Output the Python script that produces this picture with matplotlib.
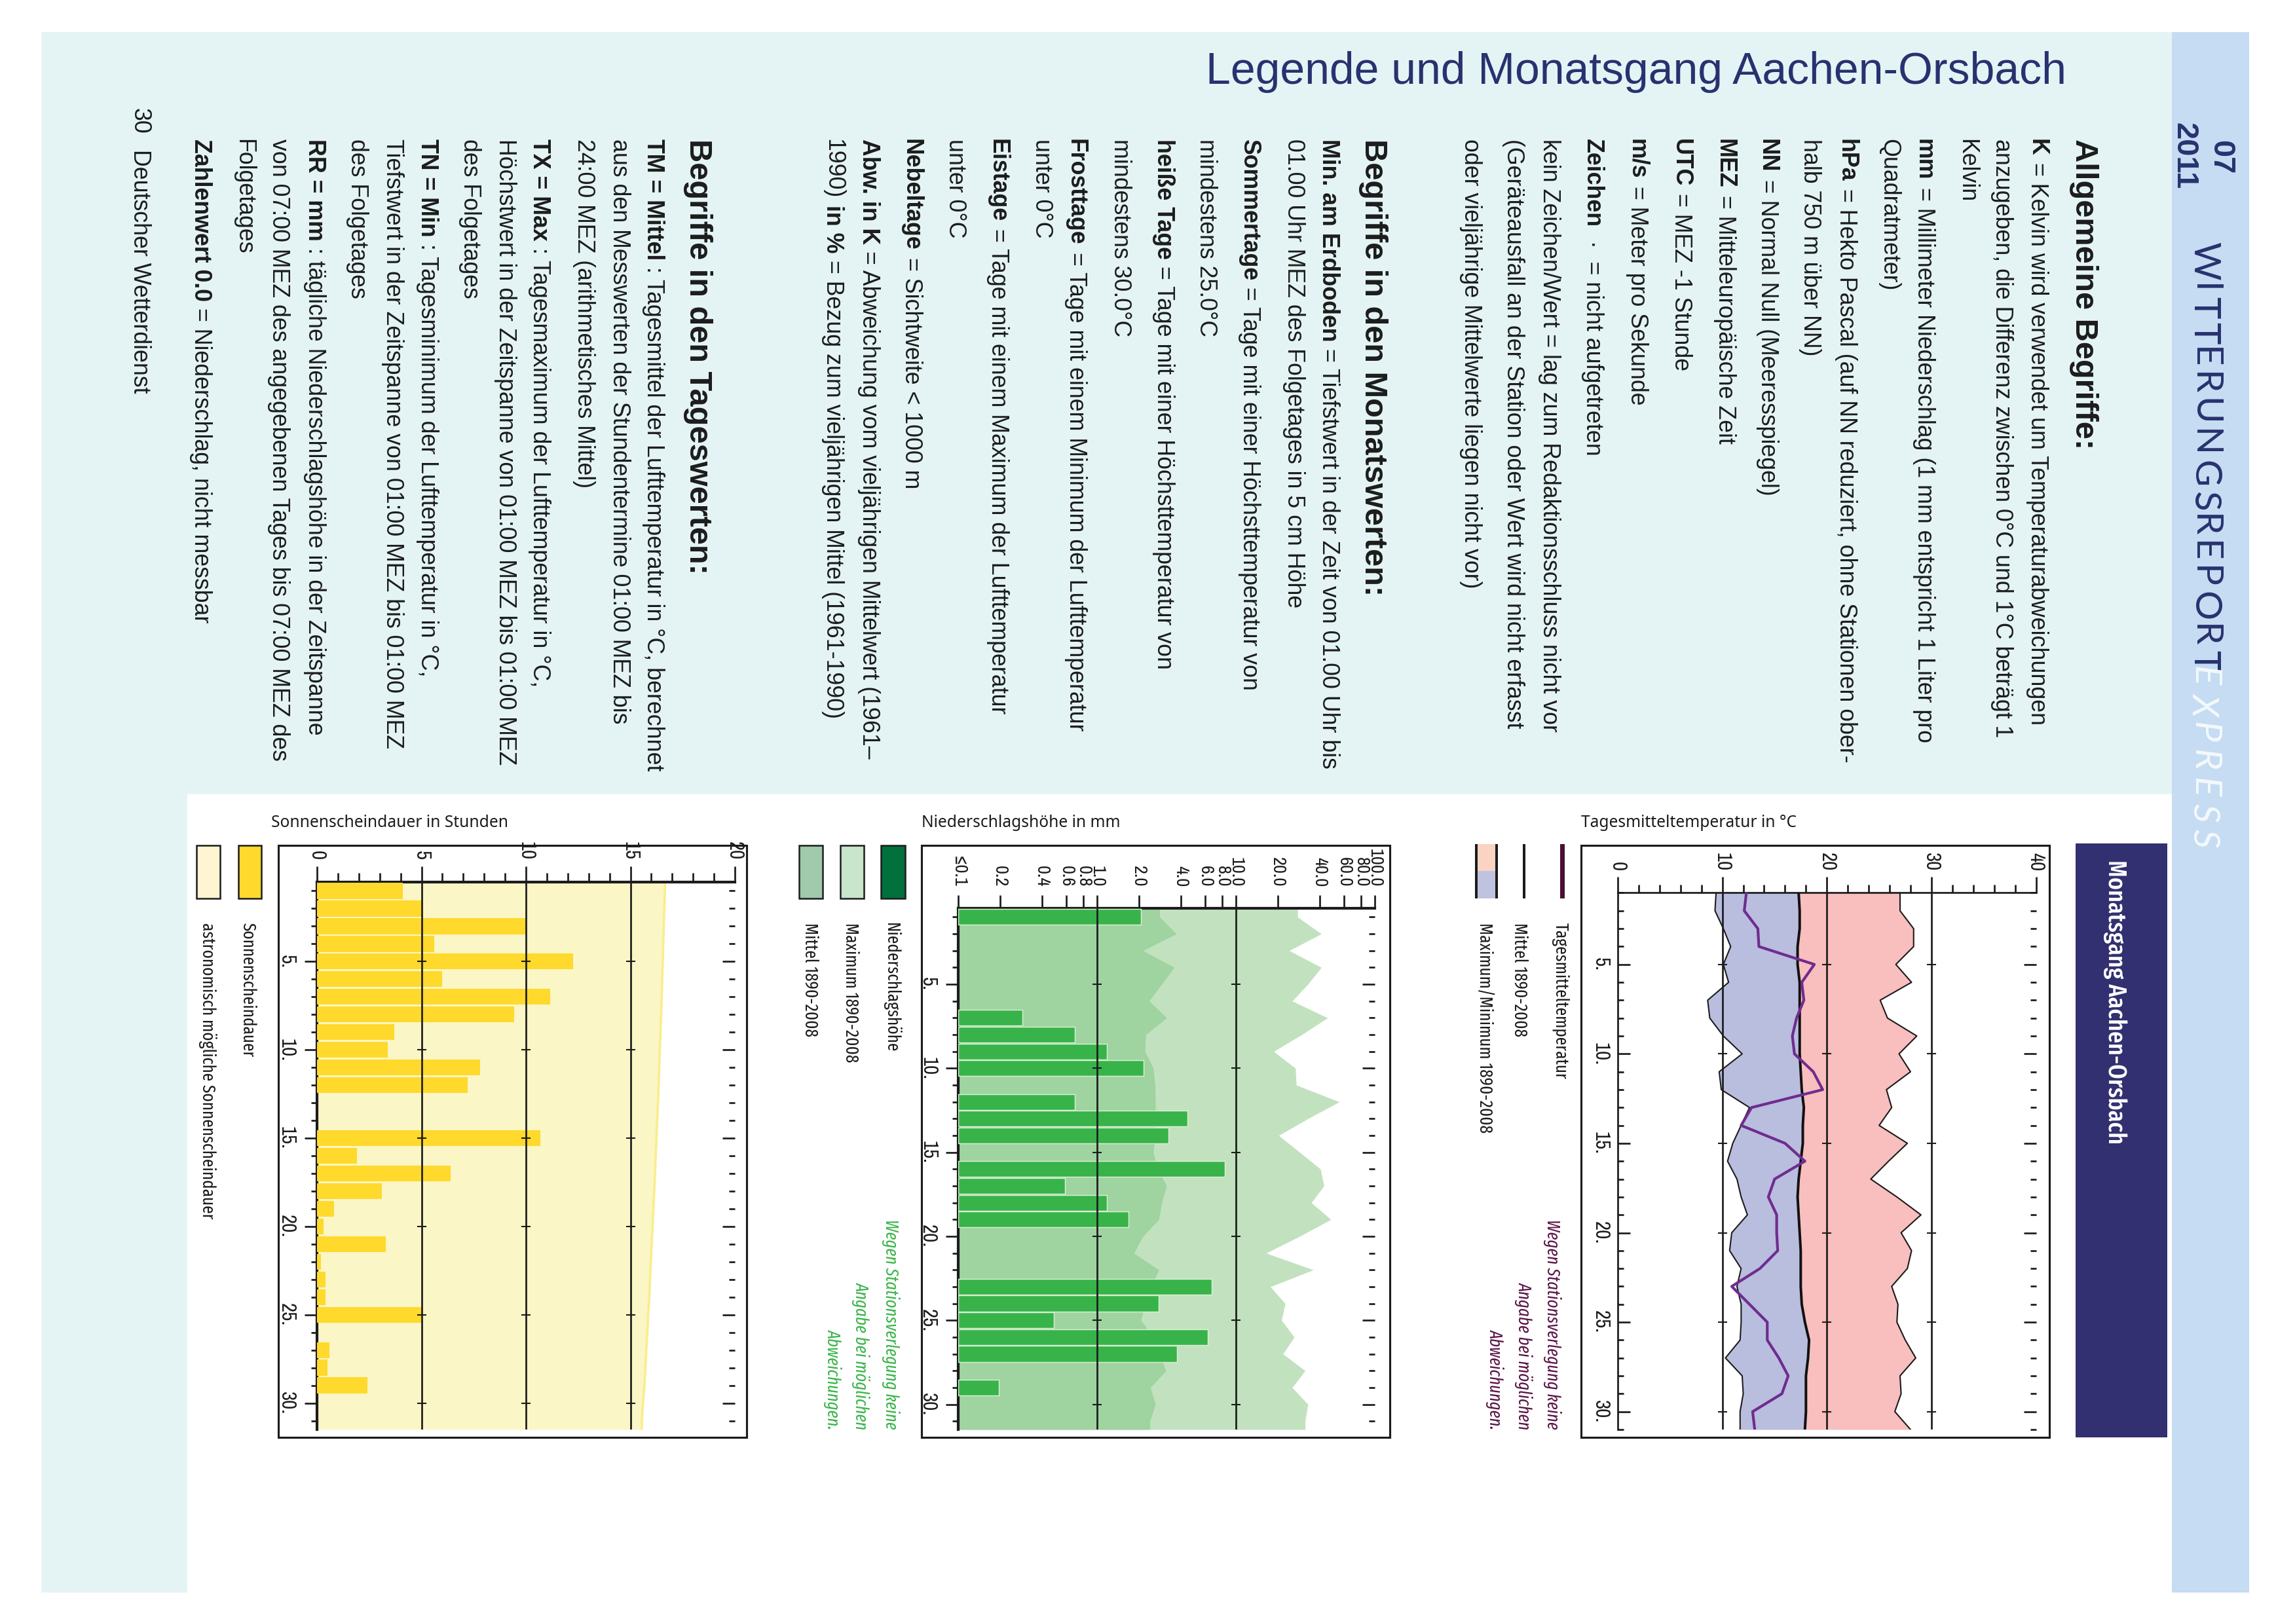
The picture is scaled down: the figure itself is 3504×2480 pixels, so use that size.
import matplotlib
matplotlib.use("Agg")
import matplotlib.pyplot as plt
import numpy as np
from matplotlib.patches import Rectangle

W, H = 3504, 2480
SANS = ["Liberation Sans", "DejaVu Sans"]
NARROW = ["Archivo Narrow", "Liberation Sans", "DejaVu Sans"]
COND = ["Fira Sans Extra Condensed", "Barlow Condensed", "Archivo Narrow", "Liberation Sans", "DejaVu Sans"]
NAVY = "#28326F"

days = np.arange(1, 32)

# Tagesmitteltemperatur in Grad C
t_today = [12.3, 12.1, 13.4, 13.5, 18.8, 17.6, 17.8, 17.1, 16.7, 16.9, 18.7, 19.6, 12.8, 11.8, 16.0, 17.9,
           15.0, 14.4, 15.2, 15.2, 15.3, 13.6, 10.9, 12.6, 14.3, 14.3, 15.4, 16.3, 15.7, 12.9, 13.1]
t_mean = [17.3, 17.4, 17.4, 17.2, 17.2, 17.4, 17.4, 17.4, 17.4, 17.4, 17.5, 17.6, 17.8, 17.7, 17.7, 17.5,
          17.3, 17.2, 17.3, 17.4, 17.5, 17.5, 17.5, 17.6, 17.9, 18.3, 18.2, 18.0, 18.0, 18.0, 17.9]
t_max = [27.0, 27.0, 28.3, 28.3, 26.6, 28.1, 25.1, 25.8, 28.6, 26.9, 28.0, 25.7, 26.2, 25.0, 27.7, 25.9,
         24.2, 26.7, 29.0, 27.1, 28.1, 27.7, 26.2, 26.8, 26.7, 27.5, 28.5, 27.0, 27.1, 26.5, 28.0]
t_min = [9.4, 9.3, 10.1, 10.8, 10.1, 10.6, 8.6, 8.8, 10.1, 11.9, 9.7, 9.9, 12.6, 11.8, 11.0, 10.5,
         11.4, 11.8, 12.4, 10.9, 10.7, 11.8, 11.4, 11.8, 11.8, 11.7, 10.3, 11.9, 12.0, 11.7, 11.7]

# Niederschlag in mm, 0 = kein Balken
rain = [2.08, 0, 0, 0, 0, 0, 0.29, 0.69, 1.18, 2.17, 0, 0.69, 4.5, 3.27, 0, 8.3,
        0.59, 1.18, 1.68, 0, 0, 0, 6.7, 2.78, 0.49, 6.27, 3.78, 0, 0.197, 0, 0]
rain_mean = [2.82, 3.72, 2.14, 3.60, 2.92, 2.37, 3.17, 2.24, 2.21, 2.54, 2.61, 2.63, 2.63, 2.63, 2.54, 2.72,
             3.17, 2.92, 2.78, 2.14, 1.84, 2.78, 2.45, 2.21, 2.07, 2.54, 2.82, 3.13, 2.42, 2.63, 2.40]
rain_max = [27.8, 41.2, 24.2, 41.2, 33.0, 25.4, 45.7, 29.8, 18.7, 26.8, 27.2, 55.5, 33.0, 20.3, 28.8, 40.6,
            43.0, 34.9, 48.3, 28.8, 16.5, 36.1, 17.7, 22.6, 21.3, 26.3, 21.8, 31.5, 25.4, 33.0, 31.5]
rain_ticks = [0.1, 0.2, 0.4, 0.6, 0.8, 1, 2, 4, 6, 8, 10, 20, 40, 60, 80, 100]
rain_labels = ["≤0.1", "0.2", "0.4", "0.6", "0.8", "1.0", "2.0", "4.0", "6.0", "8.0", "10.0",
               "20.0", "40.0", "60.0", "80.0", "100.0"]

# Sonnenscheindauer in Stunden
sun = [4.1, 5.07, 10.0, 5.6, 12.27, 6.0, 11.15, 9.45, 3.7, 3.4, 7.8, 7.2, 0, 0, 10.7, 1.9,
       6.4, 3.1, 0.8, 0.3, 3.3, 0.2, 0.4, 0.4, 5.0, 0, 0.6, 0.5, 2.4, 0, 0]
sun_astro = [16.65, 16.62, 16.6, 16.57, 16.55, 16.52, 16.5, 16.47, 16.44, 16.41, 16.38, 16.35, 16.32, 16.28,
             16.25, 16.21, 16.18, 16.14, 16.1, 16.06, 16.02, 15.98, 15.94, 15.9, 15.85, 15.81, 15.76, 15.72,
             15.67, 15.6, 15.55]

# Text der Legende: (Art, fett, normal), Zeilen von rechts nach links
right_col = [("H", "Allgemeine Begriffe:", ""),
             ("", "K", "= Kelvin wird verwendet um Temperaturabweichungen"),
             ("", "", "anzugeben, die Differenz zwischen 0°C und 1°C beträgt 1"),
             ("", "", "Kelvin"),
             ("", "mm", "= Millimeter Niederschlag (1 mm entspricht 1 Liter pro"),
             ("", "", "Quadratmeter)"),
             ("", "hPa", "= Hekto Pascal (auf NN reduziert, ohne Stationen ober-"),
             ("", "", "halb 750 m über NN)"),
             ("", "NN", "= Normal Null (Meeresspiegel)"),
             ("", "MEZ", "= Mitteleuropäische Zeit"),
             ("", "UTC", "= MEZ -1 Stunde"),
             ("", "m/s", "= Meter pro Sekunde"),
             ("", "Zeichen", " ·  = nicht aufgetreten"),
             ("", "", "kein Zeichen/Wert = lag zum Redaktionsschluss nicht vor"),
             ("", "", "(Geräteausfall an der Station oder Wert wird nicht erfasst"),
             ("", "", "oder vieljährige Mittelwerte liegen nicht vor)"),
             ("H", "Begriffe in den Monatswerten:", ""),
             ("", "Min. am Erdboden", "= Tiefstwert in der Zeit von 01.00 Uhr bis"),
             ("", "", "01.00 Uhr MEZ des Folgetages in 5 cm Höhe"),
             ("", "Sommertage", "= Tage mit einer Höchsttemperatur von"),
             ("", "", "mindestens 25.0°C"),
             ("", "heiße Tage", "= Tage mit einer Höchsttemperatur von"),
             ("", "", "mindestens 30.0°C"),
             ("", "Frosttage", "= Tage mit einem Minimum der Lufttemperatur"),
             ("", "", "unter 0°C"),
             ("", "Eistage", "= Tage mit einem Maximum der Lufttemperatur"),
             ("", "", "unter 0°C"),
             ("", "Nebeltage", "= Sichtweite < 1000 m"),
             ("", "Abw. in K", "= Abweichung vom vieljährigen Mittelwert (1961–"),
             ("P", "", "1990)"),
             ("H", "Begriffe in den Tageswerten:", ""),
             ("", "TM = Mittel", ": Tagesmittel der Lufttemperatur in °C, berechnet"),
             ("", "", "aus den Messwerten der Stundentermine 01:00 MEZ bis"),
             ("", "", "24:00 MEZ (arithmetisches Mittel)"),
             ("", "TX = Max", ": Tagesmaximum der Lufttemperatur in °C,"),
             ("", "", "Höchstwert in der Zeitspanne von 01:00 MEZ bis 01:00 MEZ"),
             ("", "", "des Folgetages"),
             ("", "TN = Min", ": Tagesminimum der Lufttemperatur in °C,"),
             ("", "", "Tiefstwert in der Zeitspanne von 01:00 MEZ bis 01:00 MEZ"),
             ("", "", "des Folgetages"),
             ("", "RR = mm", ": tägliche Niederschlagshöhe in der Zeitspanne"),
             ("", "", "von 07:00 MEZ des angegebenen Tages bis 07:00 MEZ des"),
             ("", "", "Folgetages"),
             ("", "Zahlenwert 0.0", "= Niederschlag, nicht messbar")]
baselines = [3169, 3101, 3047, 2993, 2928, 2874, 2809, 2754, 2689, 2624, 2557, 2490, 2422, 2356, 2301, 2236,
             2084, 2019, 1966, 1898, 1832, 1767, 1701, 1633, 1581, 1514, 1449, 1382, 1317, 1262,
             1053, 988, 936, 882, 814, 762, 708, 643, 590, 536, 471, 416, 362, 297]

BODY = 8.6
HEAD = 11.7

fig = plt.figure(figsize=(W / 300, H / 300), dpi=300)
bg = fig.add_axes([0, 0, 1, 1])
bg.set_xlim(0, W)
bg.set_ylim(H, 0)
bg.axis("off")
renderer = fig.canvas.get_renderer()


def box(x0, y0, x1, y1, color, edge="none", lw=0):
    bg.add_patch(Rectangle((x0, y0), x1 - x0, y1 - y0, facecolor=color, edgecolor=edge, linewidth=lw))


def down_text(x, y, s, size, family=SANS, color="#1c1c1c", **kw):
    # von oben nach unten laufender Text, x ist die Grundlinie
    return bg.text(x, y, s, fontsize=size, family=family, color=color, rotation=270,
                   rotation_mode="anchor", ha="left", va="baseline", **kw)


def spaced(x, y, s, size, extra, **kw):
    for ch in s:
        t = down_text(x, y, ch, size, **kw)
        y += t.get_window_extent(renderer).height + extra
    return y


# Seitenhintergrund
box(63, 49, 3316, 1213, "#E4F4F5")
box(63, 1213, 286, 2432, "#E4F4F5")
box(3316, 49, 3434, 2432, "#C5DCF2")
box(3169, 1288, 3309, 2195, "#323070")

bg.text(1841, 128, "Legende und Monatsgang Aachen-Orsbach", fontsize=16.3, family=SANS, color=NAVY)
down_text(3378, 214, "07", 11.3, color=NAVY, fontweight="bold")
down_text(3322, 187, "2011", 11.3, color=NAVY, fontweight="bold")
spaced(3349, 369, "WITTERUNGSREPORT", 13.6, 5, family=["Lato", "Liberation Sans"], color=NAVY, fontweight="normal")
spaced(3349, 1017, "EXPRESS", 13.6, 10, family=["Lato", "Liberation Sans"], color="#F4F9FD", fontweight="normal",
       style="italic")
down_text(3219, 1313, "Monatsgang Aachen-Orsbach", 9.4, family=COND, color="white", fontweight="medium")

for (kind, strong, rest), bx in zip(right_col, baselines):
    if kind == "H":
        down_text(bx, 212, strong, HEAD, fontweight="bold")
        continue
    y = 212
    if strong:
        t = down_text(bx, y, strong, BODY, fontweight="bold")
        y += t.get_window_extent(renderer).height + 10
    if rest:
        t = down_text(bx, y, rest, BODY)
    if kind == "P":
        # Zeile mit zweitem fettem Begriff
        y += t.get_window_extent(renderer).height + 10
        t = down_text(bx, y, "in %", BODY, fontweight="bold")
        y += t.get_window_extent(renderer).height + 10
        down_text(bx, y, "= Bezug zum vieljährigen Mittel (1961-1990)", BODY)

down_text(204, 165, "30", BODY)
down_text(204, 228, "Deutscher Wetterdienst", BODY)

# Rahmen und Diagrammtitel
box(2414, 1291, 3129, 2195, "white", "#1c1c1c", 0.75)
box(1407, 1291, 2122, 2195, "white", "#1c1c1c", 0.75)
box(425, 1291, 1140, 2195, "white", "#1c1c1c", 0.75)
TITLE = ["Noto Sans", "DejaVu Sans"]
bg.text(2414, 1263, "Tagesmitteltemperatur in °C", fontsize=5.9, family=TITLE, color="#1c1c1c")
bg.text(1407, 1263, "Niederschlagshöhe in mm", fontsize=5.9, family=TITLE, color="#1c1c1c")
bg.text(414, 1263, "Sonnenscheindauer in Stunden", fontsize=5.9, family=TITLE, color="#1c1c1c")

# Legenden
box(2382, 1289, 2389, 1372, "#4B0F35")
box(2325, 1289, 2329, 1372, "#1c1c1c")
box(2252, 1289, 2287, 1330, "#FBD3C3")
box(2252, 1330, 2287, 1372, "#BFC3E0")
box(2252, 1289, 2256, 1372, "#1c1c1c")
box(2283, 1289, 2287, 1372, "#1c1c1c")
box(1345, 1291, 1382, 1372, "#00703C", "#1c1c1c", 0.6)
box(1283, 1291, 1319, 1372, "#C9E5CC", "#1c1c1c", 0.6)
box(1220, 1291, 1256, 1372, "#A1C9AC", "#1c1c1c", 0.6)
box(364, 1291, 399, 1372, "#FFD92B", "#1c1c1c", 0.6)
box(300, 1291, 336, 1372, "#FFF5D2", "#1c1c1c", 0.6)
for lx, label in [(2375, "Tagesmitteltemperatur"), (2312, "Mittel 1890-2008"), (2259, "Maximum/Minimum 1890-2008"),
                  (1353, "Niederschlagshöhe"), (1291, "Maximum 1890-2008"), (1229, "Mittel 1890-2008"),
                  (371, "Sonnenscheindauer"), (309, "astronomisch mögliche Sonnenscheindauer")]:
    down_text(lx, 1409, label, 6.6, family=COND)

note = ["Wegen Stationsverlegung keine", "Angabe bei möglichen", "Abweichungen."]
for nx, line in zip([2362, 2319, 2275], note):
    t = down_text(nx, 2183, line, 6.5, family=COND, color="#5A1446", style="italic")
    t.set_ha("right")
for nx, line in zip([1352, 1307, 1264], note):
    t = down_text(nx, 2183, line, 6.5, family=COND, color="#3BB54A", style="italic")
    t.set_ha("right")


def make_axes(x0, y0, x1, y1):
    ax = fig.add_axes([x0 / W, 1 - y1 / H, (x1 - x0) / W, (y1 - y0) / H])
    ax.patch.set_visible(False)
    for side in ["right", "bottom"]:
        ax.spines[side].set_visible(False)
    return ax


def style_axes(ax, xticks, xlabels, xminor, xlen, xminlen, left_dir, ylab_pad, xlab_pad, axis_lw, xfont=7.4):
    tk = "#1c1c1c"
    for side in ["top", "left"]:
        ax.spines[side].set_linewidth(axis_lw)
        ax.spines[side].set_color(tk)
    ax.xaxis.tick_top()
    ax.set_xticks(xticks, xlabels)
    ax.set_xticks(xminor, minor=True)
    ax.tick_params(axis="x", which="major", direction="out", length=xlen * 0.24, width=0.65, color=tk, pad=xlab_pad * 0.24)
    ax.tick_params(axis="x", which="minor", direction="out", length=xminlen * 0.24, width=0.65, color=tk)
    ax.set_yticks([5, 10, 15, 20, 25, 30], ["5.", "10.", "15.", "20.", "25.", "30."])
    ax.set_yticks(days, minor=True)
    ax.tick_params(axis="y", which="major", direction=left_dir, length=19 * 0.24, width=0.65, color=tk, pad=ylab_pad * 0.24)
    ax.tick_params(axis="y", which="minor", direction=left_dir, length=9 * 0.24, width=0.65, color=tk)
    for lab in ax.get_xticklabels():
        lab.set(rotation=270, ha="center", va="bottom", family=NARROW, fontsize=xfont, color=tk)
    for lab in ax.get_yticklabels():
        lab.set(rotation=270, ha="right", va="center", family=NARROW, fontsize=7.4, color=tk)
    # Striche am rechten Rand
    sec = ax.secondary_yaxis("right")
    sec.spines["right"].set_visible(False)
    sec.set_yticks([5, 10, 15, 20, 25, 30])
    sec.set_yticks(days, minor=True)
    sec.tick_params(axis="y", which="major", direction="in", length=19 * 0.24, width=0.65, color=tk, labelright=False)
    sec.tick_params(axis="y", which="minor", direction="in", length=9 * 0.24, width=0.65, color=tk)


def grid_marks(ax, values):
    # Gitterlinien mit kleinen Querstrichen an jedem fuenften Tag
    for v in values:
        ax.axvline(v, color="#1c1c1c", lw=0.65, zorder=4)
        ax.plot([v] * 6, [5, 10, 15, 20, 25, 30], ls="none", marker="_", ms=3.4, mew=0.5, color="#1c1c1c", zorder=4)


def ends(values):
    # Flaechen laufen bis an die Achsenenden
    return np.r_[values[0], values, values[-1]]


edge_days = np.r_[0.5, days, 31.5]

# Temperatur
ax1 = make_axes(2470, 1363.5, 3108.5, 2183)
ax1.fill_betweenx(days, t_min, t_mean, color="#B9BDDE", lw=0)
ax1.fill_betweenx(days, t_mean, t_max, color="#F9BEBE", lw=0)
grid_marks(ax1, [10, 20, 30])
ax1.plot(t_max, days, color="#1c1c1c", lw=0.5, zorder=5)
ax1.plot(t_min, days, color="#1c1c1c", lw=0.5, zorder=5)
ax1.plot(t_mean, days, color="#111111", lw=0.95, zorder=5)
ax1.plot(t_today, days, color="#6F2C8F", lw=1.0, zorder=6)
ax1.set_xlim(0, 40)
ax1.set_ylim(31, 1)
style_axes(ax1, [0, 10, 20, 30, 40], ["0", "10", "20", "30", "40"], np.arange(0, 41, 2), 24, 12, "in", 12, 9, 0.65)

# Niederschlag
ax2 = make_axes(1463, 1387.5, 2099, 2183)
ax2.set_xscale("log")
ax2.fill_betweenx(edge_days, 0.1, ends(rain_max), color="#C2E2BF", lw=0)
ax2.fill_betweenx(edge_days, 0.1, ends(rain_mean), color="#9FD3A0", lw=0)
rain_days = [d for d, r in zip(days, rain) if r > 0]
rain_bars = [r - 0.1 for r in rain if r > 0]
ax2.barh(rain_days, rain_bars, left=0.1, height=0.94, color="#37B34A", edgecolor="#D8F0D2", linewidth=0.35, zorder=3)
grid_marks(ax2, [1, 10])
ax2.set_xlim(0.1, 100)
ax2.set_ylim(31.5, 0.5)
style_axes(ax2, rain_ticks, rain_labels, [], 20, 0, "out", 13, 13, 1.0, xfont=6.8)

# Sonne
ax3 = make_axes(484, 1347, 1122, 2183)
ax3.fill_betweenx(edge_days, 0, ends(sun_astro), color="#FBF6C6", lw=0)
ax3.plot(ends(sun_astro), edge_days, color="#F9EE8F", lw=0.9)
ax3.barh(days, sun, height=0.9, color="#FFD92B", linewidth=0, zorder=3)
grid_marks(ax3, [5, 10, 15])
ax3.set_xlim(0, 20)
ax3.set_ylim(31.5, 0.5)
style_axes(ax3, [0, 5, 10, 15, 20], ["0", "5", "10", "15", "20"], np.arange(0, 21), 24, 14, "out", 13, 10, 1.0)

fig.savefig("out.png", dpi=300, facecolor="white")
